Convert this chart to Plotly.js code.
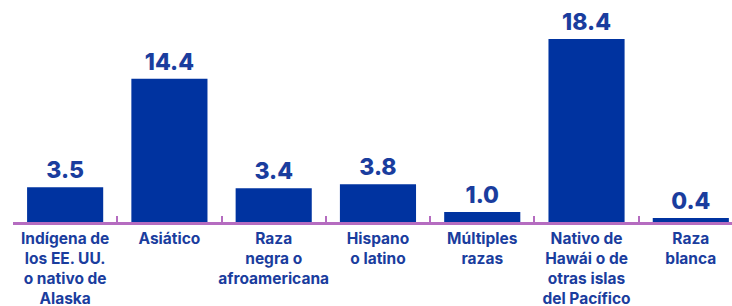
<!DOCTYPE html>
<html>
<head>
<meta charset="utf-8">
<script src="https://cdn.plot.ly/plotly-3.0.1.min.js"></script>
<style>html,body{margin:0;padding:0;background:#fff;}#chart{width:732px;height:306px;}</style>
</head>
<body>
<div id="chart"></div>
<script>
const categories = [
  "Indígena de<br>los EE. UU.<br>o nativo de<br>Alaska",
  "Asiático",
  "Raza<br>negra o<br>afroamericana",
  "Hispano<br>o latino",
  "Múltiples<br>razas",
  "Nativo de<br>Hawái o de<br>otras islas<br>del Pacífico",
  "Raza<br>blanca"
];
const values = [3.5, 14.4, 3.4, 3.8, 1.0, 18.4, 0.4];

const blue = "#0033a0";
const textBlue = "#1a3d9e";
const purple = "#b56cc0";

Plotly.newPlot("chart", [{
  type: "bar",
  x: categories,
  y: values,
  marker: {color: blue},
  texttemplate: "%{y:.1f}",
  textposition: "outside",
  cliponaxis: false,
  textfont: {family: "Inter, 'Open Sans', sans-serif", size: 23, color: textBlue, weight: 800},
  hoverinfo: "none"
}], {
  width: 732, height: 306,
  margin: {l: 13, r: 0, t: 3, b: 84},
  paper_bgcolor: "#fff", plot_bgcolor: "#fff",
  bargap: 0.27,
  showlegend: false,
  xaxis: {
    type: "category",
    range: [-0.5, 6.395],
    showline: true, linecolor: purple, linewidth: 3,
    ticks: "inside", tickson: "boundaries", ticklen: 6, tickwidth: 2, tickcolor: purple,
    tickfont: {family: "Inter, 'Open Sans', sans-serif", size: 15.5, color: textBlue, weight: 700},
    tickangle: 0,
    showgrid: false, zeroline: false
  },
  yaxis: {
    range: [0, 22.03],
    visible: false, showgrid: false, zeroline: false
  }
}, {staticPlot: true});
</script>
</body>
</html>
